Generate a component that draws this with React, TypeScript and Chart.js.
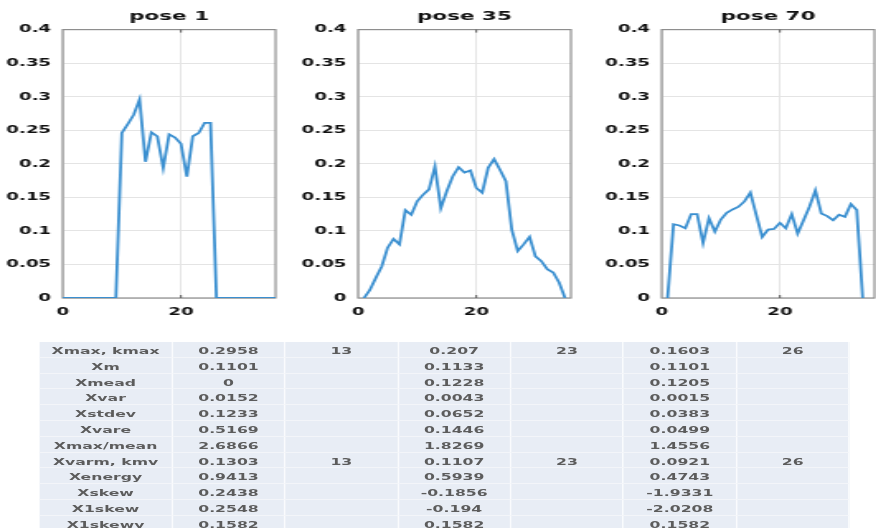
import React, { useEffect, useRef } from "react";
import { Chart, registerables } from "chart.js";

Chart.register(...registerables);

// ---------- data ----------
const poseTitles = ["pose 1", "pose 35", "pose 70"];
const poseStarts = [0, 1, 1];

const pose1Values = [
  0, 0, 0, 0, 0, 0, 0, 0, 0, 0,
  0.246, 0.259, 0.273, 0.2958, 0.203, 0.247, 0.241, 0.194, 0.244, 0.239,
  0.23, 0.181, 0.241, 0.246, 0.261, 0.261,
  0, 0, 0, 0, 0, 0, 0, 0, 0, 0, 0,
];
const pose35Values = [
  0, 0.012, 0.03, 0.047, 0.075, 0.088, 0.08, 0.131, 0.124, 0.144,
  0.154, 0.162, 0.196, 0.134, 0.159, 0.181, 0.195, 0.187, 0.19, 0.164,
  0.157, 0.194, 0.207, 0.191, 0.174, 0.102, 0.07, 0.08, 0.091, 0.062,
  0.055, 0.043, 0.038, 0.023, 0,
];
const pose70Values = [
  0, 0.11, 0.108, 0.104, 0.125, 0.125, 0.082, 0.119, 0.099, 0.117,
  0.127, 0.132, 0.136, 0.144, 0.157, 0.124, 0.091, 0.102, 0.103, 0.112,
  0.104, 0.125, 0.096, 0.116, 0.136, 0.1603, 0.126, 0.122, 0.116, 0.124,
  0.121, 0.14, 0.131, 0,
];
const poseSeries = [pose1Values, pose35Values, pose70Values];

const xMin = 0;
const xMax = 36;
const xStep = 20;
const yMin = 0;
const yMax = 0.4;
const yStep = 0.05;

// ---------- table ----------
const rowLabels = [
  "Xmax, kmax", "Xm", "Xmead", "Xvar", "Xstdev", "Xvare",
  "Xmax/mean", "Xvarm, kmv", "Xenergy", "Xskew", "X1skew", "X1skewy",
];
const pose1Stats = ["0.2958", "0.1101", "0", "0.0152", "0.1233", "0.5169", "2.6866", "0.1303", "0.9413", "0.2438", "0.2548", "0.1582"];
const pose1K = ["13", "", "", "", "", "", "", "13", "", "", "", ""];
const pose35Stats = ["0.207", "0.1133", "0.1228", "0.0043", "0.0652", "0.1446", "1.8269", "0.1107", "0.5939", "-0.1856", "-0.194", "0.1582"];
const pose35K = ["23", "", "", "", "", "", "", "23", "", "", "", ""];
const pose70Stats = ["0.1603", "0.1101", "0.1205", "0.0015", "0.0383", "0.0499", "1.4556", "0.0921", "0.4743", "-1.9331", "-2.0208", "0.1582"];
const pose70K = ["26", "", "", "", "", "", "", "26", "", "", "", ""];

const S = 1.65; // horizontal stretch of the whole figure

const boxPlugin = {
  id: "matlabBox",
  beforeDatasetsDraw(chart: any) {
    const { ctx, chartArea } = chart;
    const { left, top, right, bottom } = chartArea;
    ctx.save();
    ctx.strokeStyle = "#8e8e8e";
    ctx.lineWidth = 1.2;
    ctx.strokeRect(left, top, right - left, bottom - top);
    ctx.strokeStyle = "#555";
    ctx.lineWidth = 1;
    const xs = chart.scales.x;
    xs.ticks.forEach((t: any) => {
      const px = xs.getPixelForValue(t.value);
      if (px <= left + 1 || px >= right - 1) return;
      ctx.beginPath();
      ctx.moveTo(px, bottom);
      ctx.lineTo(px, bottom - 3);
      ctx.moveTo(px, top);
      ctx.lineTo(px, top + 3);
      ctx.stroke();
    });
    ctx.restore();
  },
};

function PoseChart({ idx }: { idx: number }) {
  const ref = useRef<HTMLCanvasElement | null>(null);
  useEffect(() => {
    if (!ref.current) return;
    const values = poseSeries[idx];
    const start = poseStarts[idx];
    const tickFont = { family: "DejaVu Sans", size: 11, weight: "bold" as const };
    const chart = new Chart(ref.current, {
      type: "line",
      data: {
        datasets: [
          {
            data: values.map((v, i) => ({ x: i + start, y: v })),
            borderColor: "#3a8fd0",
            borderWidth: 1.8,
            pointRadius: 0,
            tension: 0,
            fill: false,
          },
        ],
      },
      options: {
        animation: false,
        responsive: false,
        devicePixelRatio: 1,
        layout: { padding: { top: 7, right: 4, left: 0, bottom: 0 } },
        plugins: {
          legend: { display: false },
          tooltip: { enabled: false },
          title: {
            display: true,
            text: poseTitles[idx],
            fullSize: false,
            color: "#111",
            font: { family: "DejaVu Sans", size: 13, weight: "bold" },
            padding: { top: 2, bottom: 5 },
          },
        },
        scales: {
          x: {
            type: "linear",
            min: xMin,
            max: xMax,
            border: { display: false },
            grid: { color: "#e4e4e4", drawTicks: false, lineWidth: 1 },
            ticks: {
              stepSize: xStep,
              includeBounds: false,
              padding: 8,
              color: "#111",
              font: tickFont,
              maxRotation: 0,
            },
            afterFit(scale: any) {
              scale.height = 22;
            },
          },
          y: {
            type: "linear",
            min: yMin,
            max: yMax,
            border: { display: false },
            grid: { color: "#e4e4e4", drawTicks: false, lineWidth: 1 },
            ticks: {
              stepSize: yStep,
              padding: 7,
              color: "#111",
              font: tickFont,
              callback: (v: any) => String(Math.round(Number(v) * 100) / 100),
            },
            afterFit(scale: any) {
              scale.width = 38;
            },
          },
        },
      },
      plugins: [boxPlugin],
    });
    return () => chart.destroy();
  }, [idx]);
  return <canvas ref={ref} width={171} height={320} />;
}

const chartLefts = [0, 179, 363];
const tableLeft = 24.2;
const tableTop = 342;
const rowH = 15.8;
const firstColW = 80.6;
const colW = 68.4;

export default function App() {
  const columns = [rowLabels, pose1Stats, pose1K, pose35Stats, pose35K, pose70Stats, pose70K];
  return (
    <div
      style={{
        position: "absolute",
        left: 0,
        top: 0,
        width: 876,
        height: 528,
        overflow: "hidden",
        background: "#fff",
      }}
    >
      <div
        style={{
          position: "absolute",
          left: 0,
          top: 0,
          width: 876 / S,
          height: 528,
          transform: `scaleX(${S})`,
          transformOrigin: "0 0",
        }}
      >
        {poseTitles.map((_, i) => (
          <div key={i} style={{ position: "absolute", left: chartLefts[i], top: 0, width: 171, height: 320 }}>
            <PoseChart idx={i} />
          </div>
        ))}
        <div style={{ position: "absolute", left: tableLeft, top: tableTop }}>
          {rowLabels.map((_, r) => (
            <div key={r} style={{ display: "flex", height: rowH }}>
              {columns.map((col, c) => (
                <div
                  key={c}
                  style={{
                    width: c === 0 ? firstColW : colW,
                    height: rowH,
                    boxSizing: "border-box",
                    background: "#e8edf5",
                    borderRight: "1.2px solid #fafbfd",
                    borderBottom: "1px solid #f3f5f9",
                    textAlign: "center",
                    fontFamily: "DejaVu Sans",
                    fontWeight: "bold",
                    fontSize: 9.5,
                    paddingTop: 2,
                    lineHeight: `${rowH - 2}px`,
                    color: "#5c5c5c",
                    whiteSpace: "nowrap",
                  }}
                >
                  {col[r]}
                </div>
              ))}
            </div>
          ))}
        </div>
      </div>
    </div>
  );
}
